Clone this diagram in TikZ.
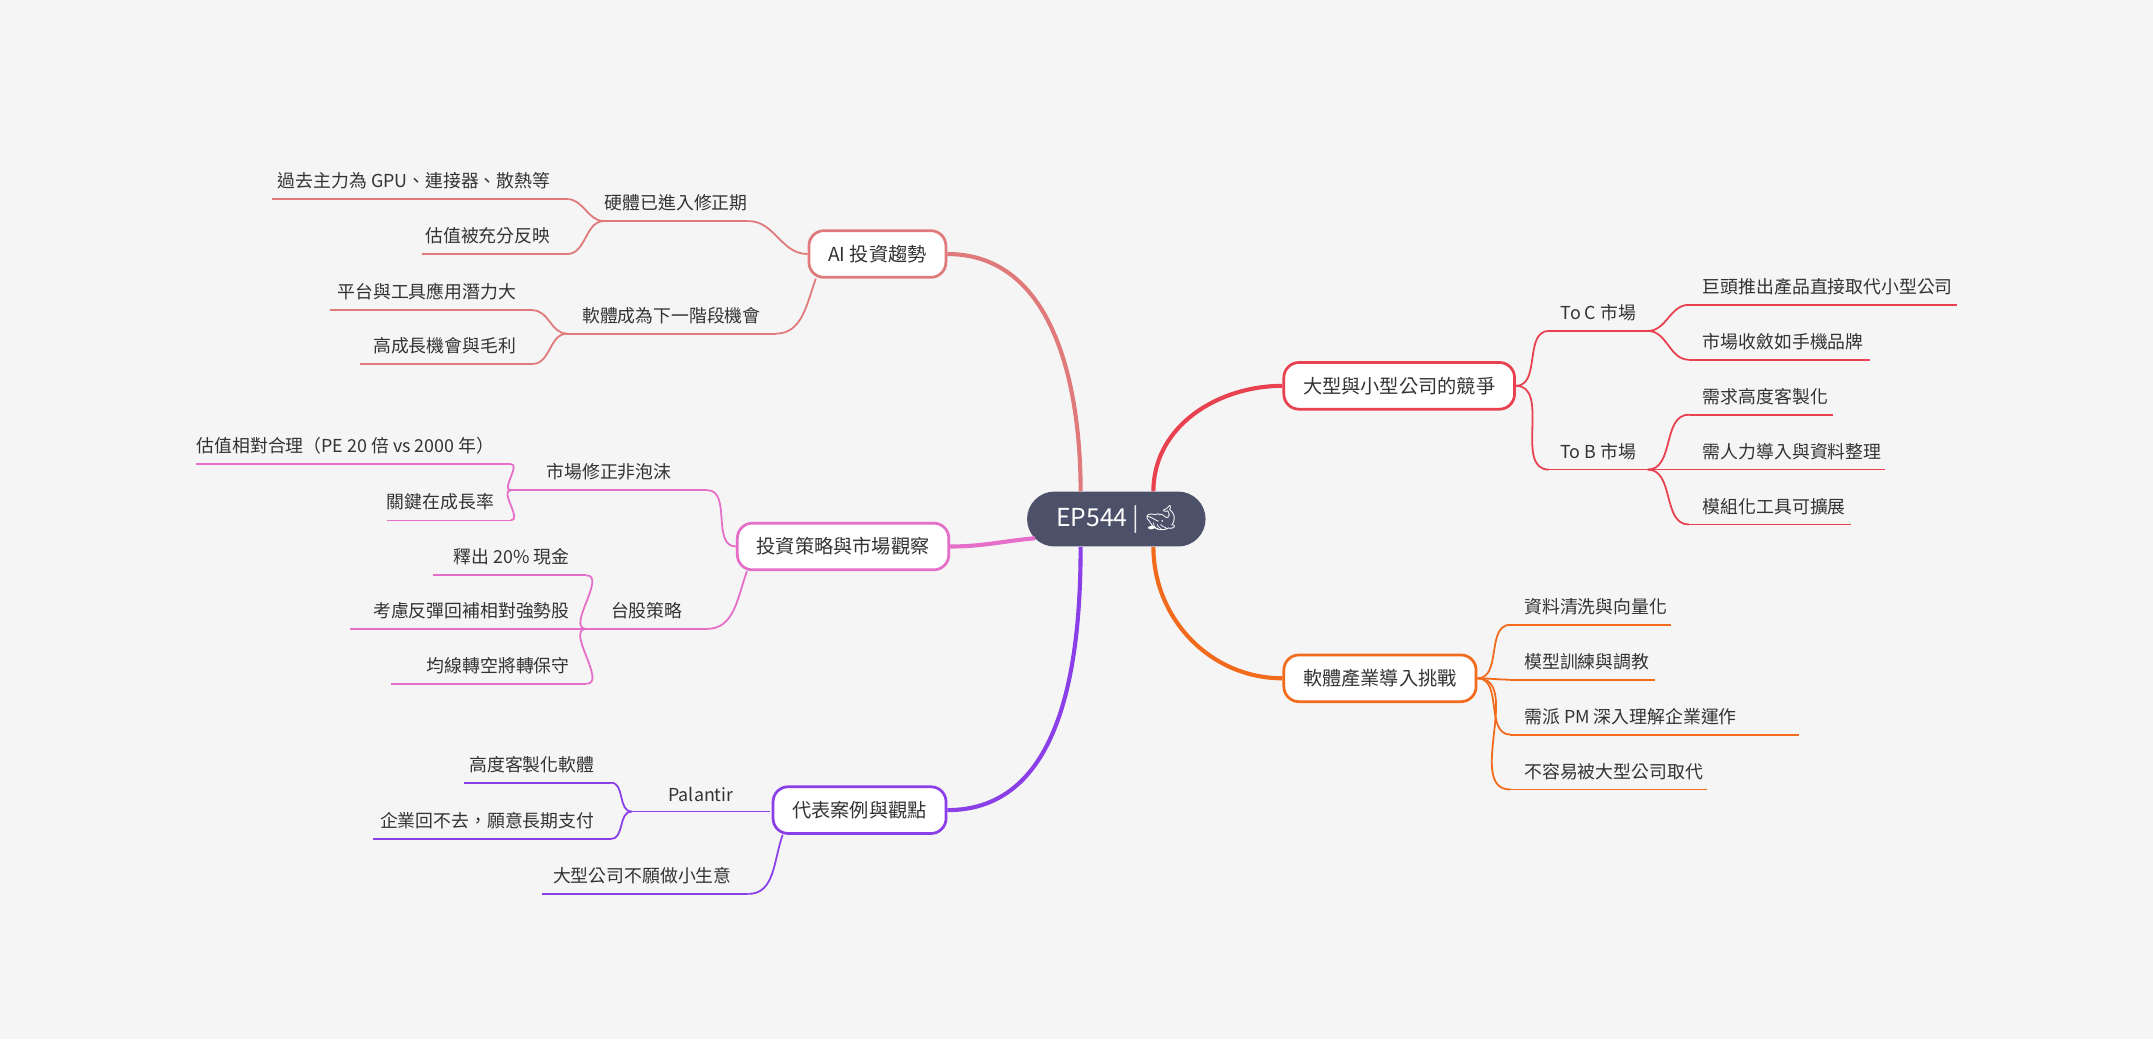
\documentclass[tikz,border=0pt]{standalone}
\usepackage{fontspec}
\setmainfont{Noto Sans CJK TC}
\newfontfamily\emo{Noto Emoji}
\usetikzlibrary{calc}
\definecolor{bg}{HTML}{F5F5F5}
\definecolor{txt}{HTML}{333333}
\definecolor{cen}{HTML}{4D5069}
\definecolor{cai}{HTML}{E07A7A}
\definecolor{cco}{HTML}{E8414F}
\definecolor{csw}{HTML}{F26B1D}
\definecolor{cin}{HTML}{E56FC8}
\definecolor{cca}{HTML}{8B3FE8}
\tikzset{
 br/.style={draw=#1,line width=2pt,fill=white,rounded corners=11pt,minimum height=34pt,inner xsep=14pt,font=\fontsize{14}{16}\selectfont,text=txt},
 main/.style={draw=#1,line width=3pt},
 sub/.style={draw=#1,line width=1.3pt},
 lt/.style={font=\fontsize{13}{15}\selectfont,text=txt,inner sep=0pt},
}
% #7: L = text right-aligned (leaf on left side), R = left-aligned, C = centred
\newcommand{\leaf}[7]{%
 \coordinate (#1-l) at (#2,#4); \coordinate (#1-r) at (#3,#4);
 \draw[sub=#6] (#1-l) -- (#1-r);
 \if#7L\node[lt,anchor=south east] (#1) at ($(#1-r)+(-12,-7)$) {#5};\fi
 \if#7R\node[lt,anchor=south west] (#1) at ($(#1-l)+(10,-7)$) {#5};\fi
 \if#7C\node[lt,anchor=south] (#1) at ($(#1-l)!0.5!(#1-r)+(0,-7)$) {#5};\fi}
\begin{document}
\begin{tikzpicture}[x=1pt,y=-1pt]
\fill[bg] (0,0) rectangle (1568,757);
\useasboundingbox (0,0) rectangle (1568,757);
% center
\node[fill=cen,rounded corners=20pt,minimum width=130pt,minimum height=40pt,text=white,font=\fontsize{18}{20}\selectfont] (c) at (813,378) {EP544 \textcolor{white!90!cen}{|} {\emo 🐋}};
% branches
\node[br=cai] (ai) at (639,185) {AI 投資趨勢};
\node[br=cco] (co) at (1019,281) {大型與小型公司的競爭};
\node[br=csw] (sw) at (1005,494) {軟體產業導入挑戰};
\node[br=cin] (in) at (614,398) {投資策略與市場觀察};
\node[br=cca] (ca) at (626,590) {代表案例與觀點};
\draw[main=cai] ($(c.north)+(-26,0)$) to[out=90,in=0] (ai.east);
\draw[main=cco] ($(c.north)+(27,0)$) to[out=90,in=180] (co.west);
\draw[main=csw] ($(c.south)+(27,0)$) to[out=-90,in=180] (sw.west);
\draw[main=cin] ($(c.west)+(6,14)$) to[out=185,in=0] (in.east);
\draw[main=cca] ($(c.south)+(-26,0)$) to[out=-90,in=0] (ca.east);
% AI
\leaf{a1}{440}{545}{161}{硬體已進入修正期}{cai}{C}
\leaf{a11}{198}{413}{145}{過去主力為 GPU、連接器、散熱等}{cai}{L}
\leaf{a12}{307}{413}{185}{估值被充分反映}{cai}{L}
\leaf{a2}{413}{565}{243}{軟體成為下一階段機會}{cai}{C}
\leaf{a21}{240}{388}{226}{平台與工具應用潛力大}{cai}{L}
\leaf{a22}{262}{388}{265}{高成長機會與毛利}{cai}{L}
\draw[sub=cai] (ai.west) to[out=180,in=0] (a1-r);
\draw[sub=cai] ($(ai.south west)+(6,0)$) to[out=-110,in=0] (a2-r);
\draw[sub=cai] (a1-l) to[out=180,in=0] (a11-r);
\draw[sub=cai] (a1-l) to[out=180,in=0] (a12-r);
\draw[sub=cai] (a2-l) to[out=180,in=0] (a21-r);
\draw[sub=cai] (a2-l) to[out=180,in=0] (a22-r);
% competition
\leaf{b1}{1128}{1200}{241}{To C 市場}{cco}{C}
\leaf{b11}{1230}{1425}{222}{巨頭推出產品直接取代小型公司}{cco}{R}
\leaf{b12}{1230}{1362}{262}{市場收斂如手機品牌}{cco}{R}
\leaf{b2}{1128}{1200}{342}{To B 市場}{cco}{C}
\leaf{b21}{1230}{1335}{302}{需求高度客製化}{cco}{R}
\leaf{b22}{1230}{1373}{342}{需人力導入與資料整理}{cco}{R}
\leaf{b23}{1230}{1348}{382}{模組化工具可擴展}{cco}{R}
\draw[sub=cco] (co.east) to[out=0,in=180] (b1-l);
\draw[sub=cco] (co.east) to[out=0,in=180] (b2-l);
\draw[sub=cco] (b1-r) to[out=0,in=180] (b11-l);
\draw[sub=cco] (b1-r) to[out=0,in=180] (b12-l);
\draw[sub=cco] (b2-r) to[out=0,in=180] (b21-l);
\draw[sub=cco] (b2-r) to[out=0,in=180] (b22-l);
\draw[sub=cco] (b2-r) to[out=0,in=180] (b23-l);
% software
\leaf{s1}{1100}{1217}{455}{資料清洗與向量化}{csw}{R}
\leaf{s2}{1100}{1205}{495}{模型訓練與調教}{csw}{R}
\leaf{s3}{1100}{1310}{535}{需派 PM 深入理解企業運作}{csw}{R}
\leaf{s4}{1100}{1243}{575}{不容易被大型公司取代}{csw}{R}
\foreach \s in {s1,s2,s3,s4}{\draw[sub=csw] (sw.east) to[out=0,in=180] (\s-l);}
% investment
\leaf{i1}{372}{515}{357}{市場修正非泡沫}{cin}{C}
\leaf{i11}{143}{372}{338}{估值相對合理（PE 20 倍 vs 2000 年）}{cin}{L}
\leaf{i12}{282}{372}{379}{關鍵在成長率}{cin}{L}
\leaf{i2}{427}{515}{458}{台股策略}{cin}{C}
\leaf{i21}{315}{427}{419}{釋出 20\% 現金}{cin}{L}
\leaf{i22}{255}{427}{458}{考慮反彈回補相對強勢股}{cin}{L}
\leaf{i23}{285}{427}{498}{均線轉空將轉保守}{cin}{L}
\draw[sub=cin] (in.west) to[out=180,in=0] (i1-r);
\draw[sub=cin] ($(in.south west)+(8,0)$) to[out=-110,in=0] (i2-r);
\draw[sub=cin] (i1-l) to[out=180,in=0] (i11-r);
\draw[sub=cin] (i1-l) to[out=180,in=0] (i12-r);
\draw[sub=cin] (i2-l) to[out=180,in=0] (i21-r);
\draw[sub=cin] (i2-l) to[out=180,in=0] (i23-r);
% cases
\leaf{p1}{460}{561}{591}{Palantir}{cca}{C}
\leaf{p11}{338}{445}{570}{高度客製化軟體}{cca}{L}
\leaf{p12}{272}{445}{611}{企業回不去，願意長期支付}{cca}{L}
\leaf{p2}{395}{545}{651}{大型公司不願做小生意}{cca}{L}
\draw[sub=cca] ($(ca.south west)+(8,0)$) to[out=-110,in=0] (p2-r);
\draw[sub=cca] (p1-l) to[out=180,in=0] (p11-r);
\draw[sub=cca] (p1-l) to[out=180,in=0] (p12-r);
\end{tikzpicture}
\end{document}
